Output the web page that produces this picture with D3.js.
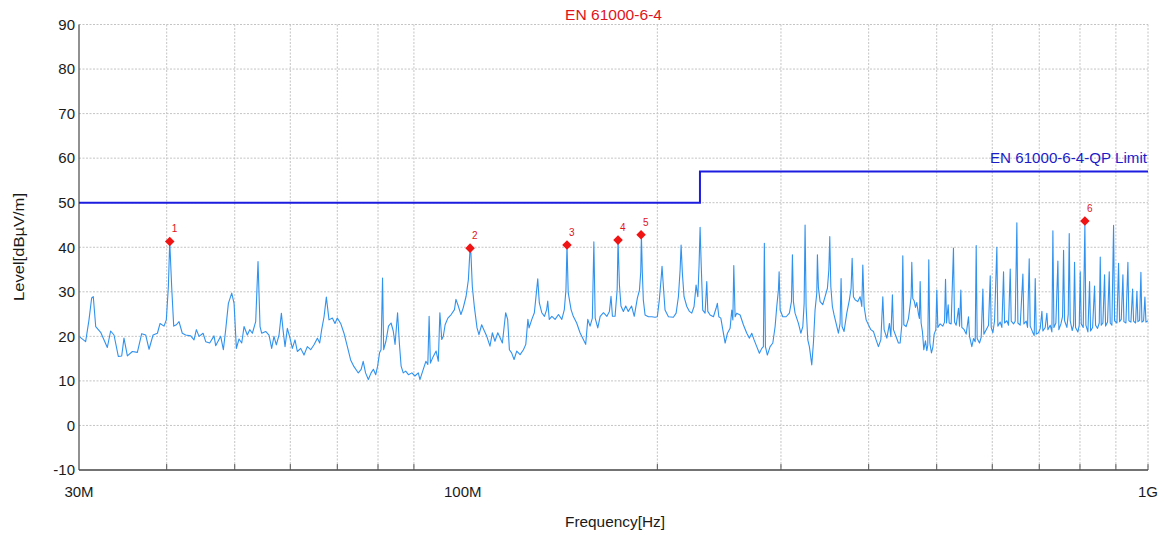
<!DOCTYPE html>
<html><head><meta charset="utf-8">
<script src="https://cdn.jsdelivr.net/npm/d3@7"></script>
<style>html,body{margin:0;padding:0;background:#fff;}svg{display:block;font-family:"Liberation Sans",Arial,sans-serif;}</style>
</head><body><svg id="c" width="1164" height="535"></svg>
<script>
// ---- data ----
const chartTitle = "EN 61000-6-4";
const limitName = "EN 61000-6-4-QP Limit";
const xTickValues = [30, 100, 1000];           // MHz
const xTickLabels = ["30M", "100M", "1G"];
const xGridValues = [40,50,60,70,80,90,200,300,400,500,600,700,800,900,1000];
const yTickValues = [-10,0,10,20,30,40,50,60,70,80,90];
// limit (MHz, dBµV/m)
const limitFreq = [30, 230, 230, 1000];
const limitLevel = [50, 50, 57, 57];
// markers
const markerId = ["1","2","3","4","5","6"];
const markerFreq = [40.4, 108.2, 148.7, 175.8, 189.6, 813.0];
const markerLevel = [41.3, 39.8, 40.5, 41.6, 42.8, 45.9];
// measured trace: frequency (MHz) and level (dBµV/m)
const traceFreq = [
30.00,30.66,31.00,31.27,31.44,31.69,32.21,32.92,33.28,33.65,34.13,34.51,34.77,35.16,35.74,36.33,36.85,37.34,37.75,38.25,
38.80,39.14,39.65,39.95,40.22,40.40,40.66,40.93,41.29,41.65,42.10,42.57,43.27,43.75,44.09,44.48,45.07,45.46,46.06,46.72,
46.97,47.75,48.17,48.54,48.97,49.51,49.89,50.27,50.71,51.16,51.55,52.11,52.52,52.98,53.56,53.97,54.33,54.62,55.34,55.95,
56.44,56.87,57.31,57.82,58.27,58.58,58.97,59.42,59.94,60.40,60.93,61.40,62.08,62.76,63.44,64.15,64.85,65.57,66.07,66.50,
67.02,67.53,68.12,68.87,69.47,70.00,70.78,71.55,72.35,73.13,73.94,74.75,
75.0,75.7,76.2,76.8,77.5,78.2,78.8,79.4,79.9,80.4,80.8,81.2,81.5,82.1,82.8,83.5,84.1,84.6,85.3,85.8,
86.3,86.9,87.6,88.4,89.4,90.3,91.3,91.8,92.8,93.6,94.2,94.6,95.0,95.9,96.8,97.5,98.0,98.6,99.1,99.7,
100.6,101.7,102.8,103.3,104.1,105.0,105.8,106.8,107.6,108.2,108.5,109.0,109.7,110.7,111.4,112.4,113.4,114.3,115.5,116.4,
117.4,118.5,119.4,120.3,121.6,122.4,123.1,124.0,125.0,126.1,127.5,128.9,129.9,130.8,131.3,132.5,133.6,134.2,135.1,135.8,
136.9,138.1,139.1,139.6,140.3,141.5,143.0,144.6,146.2,147.4,148.2,148.7,149.3,150.7,151.8,153.5,155.2,156.9,158.1,159.2,
160.4,161.6,162.4,163.1,164.5,165.8,167.6,169.5,170.9,171.8,172.6,174.1,175.3,175.8,176.6,177.5,178.9,180.3,181.8,183.8,185.4,
187.3,188.6,189.4,189.8,190.4,191.0,192.1,194.2,196.4,198.5,200.0,201.3,202.5,203.1,204.0,205.1,207.4,210.8,212.7,214.3,
215.5,216.2,217.1,218.3,220.3,222.2,223.9,225.6,227.1,228.4,229.3,230.1,230.9,232.1,233.9,235.2,236.0,237.8,240.4,242.5,
243.5,244.7,246.3,247.9,249.8,251.7,253.9,255.3,256.2,257.0,258.1,259.5,262.4,265.2,268.2,270.5,272.6,274.7,277.1,279.5,
281.7,283.2,284.1,285.1,286.9,289.5,292.1,294.3,295.9,297.5,298.2,299.2,301.8,305.1,308.4,310.5,311.5,312.5,314.2,317.7,
320.2,322.3,323.7,324.7,325.8,327.6,329.3,331.9,333.7,335.5,337.4,338.1,339.2,341.1,344.1,346.7,349.4,351.0,352.1,353.3,
355.1,357.1,359.5,362.2,364.2,365.4,366.6,369.0,372.3,375.5,377.6,378.9,380.5,382.6,386.0,388.9,391.1,392.4,394.1,396.7,
399.7,402.9,406.3,409.9,413.0,416.3,419.0,420.8,424.6,428.2,430.2,432.4,433.9,437.7,441.0,
443.5,445.9,447.4,448.9,452.3,455.8,458.3,459.8,460.8,462.3,464.3,466.4,468.4,471.0,472.5,473.6,475.1,477.2,479.3,481.9,
484.1,485.6,487.2,488.9,491.5,493.7,495.9,498.6,500.2,501.9,505.7,510.2,513.0,514.7,516.4,519.2,520.9,524.3,528.3,530.1,
533.0,537.1,538.9,541.2,543.0,547.2,550.8,555.0,556.9,561.1,564.2,567.3,569.2,571.0,575.4,578.6,581.8,583.7,588.2,592.7,
596.0,597.9,601.2,604.5,609.1,611.1,615.8,619.2,622.6,624.7,629.5,632.9,636.4,638.5,643.4,646.9,650.4,652.6,657.6,663.4,
665.6,670.7,673.6,677.3,679.5,684.8,688.5,690.8,693.1,698.4,702.2,706.1,708.4,713.8,717.7,720.1,725.6,729.6,732.0,734.4,
739.2,744.1,746.5,751.5,755.6,758.1,760.6,766.4,769.8,772.3,774.8,779.9,783.4,785.9,788.5,794.6,798.1,800.7,803.3,808.6,
813.0,815.7,821.1,825.6,828.3,833.8,839.2,842.0,847.5,852.2,855.0,857.8,862.5,867.2,870.1,875.8,880.6,883.5,888.3,893.2,
896.2,903.1,908.0,911.0,916.0,921.0,924.0,930.1,936.2,939.3,945.5,950.7,953.8,960.1,964.3,967.5,972.8,977.0,980.2,985.6,
989.9,993.2,1000
];
const traceLevel = [
20.0,18.8,23.7,28.6,28.9,22.2,20.9,17.5,21.2,20.3,15.5,15.6,19.6,15.6,16.6,16.4,20.6,20.3,17.1,20.3,
20.7,22.9,22.3,23.7,31.2,41.3,31.0,22.3,22.6,23.3,20.7,20.3,20.1,19.2,21.5,20.0,20.7,18.8,18.5,20.1,
17.9,20.0,17.0,21.5,27.4,29.7,27.4,17.3,19.4,18.5,22.2,20.3,21.5,20.7,23.3,36.8,22.2,20.7,21.1,20.3,
17.3,20.0,18.1,20.3,25.2,21.5,17.7,21.8,19.6,17.3,19.2,16.6,17.3,15.8,17.7,17.0,18.1,19.6,18.5,21.5,
24.4,28.8,23.7,24.1,22.9,24.1,22.9,20.7,17.7,14.7,13.2,12.1,
11.8,12.6,14.4,11.8,10.3,11.8,12.6,11.4,13.3,16.3,17.0,33.1,17.0,18.9,22.3,23.0,21.2,18.2,25.3,18.5,
13.3,11.8,12.2,11.4,11.8,11.1,11.8,10.3,12.6,14.4,13.7,24.5,14.0,15.5,16.7,14.4,25.3,19.3,20.0,22.6,
24.1,24.9,26.0,28.3,26.8,24.9,26.4,29.0,32.7,39.8,38.7,31.2,26.8,21.9,20.4,22.6,21.2,20.0,17.8,20.8,
18.9,20.8,19.7,18.5,25.3,23.8,17.0,16.3,14.8,16.7,15.9,17.0,18.2,23.8,21.9,23.8,25.3,28.3,32.9,27.5,
25.3,24.5,26.0,27.9,23.8,24.5,23.8,24.9,23.8,26.0,30.5,40.5,29.8,26.0,24.5,23.0,20.8,19.3,18.2,23.8,
22.3,24.1,41.2,24.1,21.9,24.5,25.3,24.5,25.6,29.0,24.5,24.5,30.5,41.6,31.6,26.8,25.6,26.8,25.6,26.8,24.5,
28.6,30.4,34.5,42.8,34.2,28.2,24.8,24.4,24.4,24.3,24.4,28.2,33.0,35.7,31.2,25.9,24.4,24.3,25.2,28.9,
34.9,40.5,34.2,28.9,26.7,25.6,25.2,26.7,31.5,28.9,35.7,44.5,36.4,25.9,25.2,32.3,25.6,24.8,24.4,26.3,
27.4,24.4,24.1,21.5,18.5,20.7,21.8,25.9,23.7,35.9,24.4,25.2,24.8,22.6,20.7,19.6,20.7,19.2,17.7,16.2,
17.3,17.7,40.9,17.7,15.8,17.7,18.5,22.2,26.7,30.4,34.5,25.9,24.4,24.4,25.2,27.8,38.3,27.8,25.2,22.9,
20.7,22.2,27.4,45.0,26.7,19.2,17.7,13.6,18.5,25.9,29.7,38.3,31.0,27.8,27.1,28.9,30.8,34.9,42.4,31.2,
26.7,24.8,22.9,20.7,22.9,33.0,22.2,21.1,25.2,28.2,30.8,37.5,28.9,28.2,27.8,28.9,26.7,36.0,26.7,23.7,
22.6,21.5,21.1,19.2,17.7,19.2,28.9,21.5,19.6,22.9,19.9,29.3,21.5,19.9,18.5,
18.5,22.5,38.1,22.6,22.2,24.0,27.0,29.0,36.6,28.5,28.0,26.5,27.6,25.0,24.0,32.3,23.0,21.0,17.0,19.0,
16.8,18.0,37.2,18.5,16.3,17.5,20.5,21.5,30.4,22.0,22.8,22.3,23.2,32.8,23.0,27.1,23.0,22.8,39.8,23.2,
22.5,26.3,22.3,30.4,22.0,21.5,20.5,24.4,20.0,17.7,19.5,18.8,40.4,19.5,18.5,19.8,30.6,20.5,21.5,22.5,
33.6,22.0,20.8,23.5,40.0,22.3,23.2,22.0,34.5,23.0,23.5,22.5,35.1,23.4,22.8,23.4,45.5,23.0,22.5,34.0,
22.8,23.4,22.0,37.4,22.3,21.0,20.2,33.0,20.5,20.8,21.8,25.6,21.2,22.0,25.2,21.5,22.5,21.0,43.7,22.0,
23.0,36.9,21.5,22.8,24.5,39.3,23.5,22.0,25.0,43.1,23.5,21.3,22.5,36.6,22.0,21.0,22.5,34.5,22.8,22.0,
45.2,22.5,21.0,32.3,21.2,22.0,31.3,22.5,21.8,23.0,37.8,22.5,23.0,33.8,22.3,23.2,34.5,23.0,22.5,44.9,
23.5,23.0,36.4,23.3,23.8,33.8,23.3,23.0,36.6,23.5,23.2,30.6,23.4,23.0,30.1,23.3,23.6,34.4,23.2,23.5,
28.8,23.2,23.5
];

// ---- layout ----
const W = 1164, H = 535;
const m = {left: 79, right: 16, top: 24.5, bottom: 65};
const svg = d3.select("#c");
const x = d3.scaleLog().domain([30, 1000]).range([m.left, W - m.right]);
const y = d3.scaleLinear().domain([-10, 90]).range([H - m.bottom, m.top]);

// grid
const g = svg.append("g");
g.selectAll(".hg").data(yTickValues.filter(v => v > -10)).enter().append("line")
  .attr("x1", m.left).attr("x2", W - m.right).attr("y1", d => y(d)).attr("y2", d => y(d))
  .attr("stroke", "#c4c4c4").attr("stroke-width", 1).attr("stroke-dasharray", "2,1.5");
g.selectAll(".vg").data(xGridValues).enter().append("line")
  .attr("x1", d => x(d)).attr("x2", d => x(d)).attr("y1", m.top).attr("y2", H - m.bottom)
  .attr("stroke", "#c4c4c4").attr("stroke-width", 1).attr("stroke-dasharray", "2,1.5");

// axes lines
svg.append("line").attr("x1", m.left).attr("x2", m.left).attr("y1", m.top).attr("y2", H - m.bottom)
  .attr("stroke", "#555").attr("stroke-width", 1.3);
svg.append("line").attr("x1", m.left).attr("x2", W - m.right).attr("y1", H - m.bottom).attr("y2", H - m.bottom)
  .attr("stroke", "#444").attr("stroke-width", 1.3);
// inner ticks at x grid
svg.selectAll(".xt").data(xGridValues).enter().append("line")
  .attr("x1", d => x(d)).attr("x2", d => x(d)).attr("y1", H - m.bottom - 6).attr("y2", H - m.bottom)
  .attr("stroke", "#555").attr("stroke-width", 1);

// tick labels
svg.selectAll(".yl").data(yTickValues).enter().append("text")
  .attr("x", m.left - 4).attr("y", d => y(d)).attr("dy", "0.35em")
  .attr("text-anchor", "end").attr("font-size", 15).attr("fill", "#1a1a1a").text(d => d);
svg.selectAll(".xl").data(xTickValues).enter().append("text")
  .attr("x", (d, i) => i === 1 ? x(d) - 2 : x(d)).attr("y", 497)
  .attr("text-anchor", (d, i) => i === 1 ? "start" : "middle")
  .attr("font-size", 15).attr("fill", "#1a1a1a").text((d, i) => xTickLabels[i]);

// titles
svg.append("text").attr("x", 565).attr("y", 20)
  .attr("font-size", 15.5).attr("fill", "#e0141c")
  .attr("textLength", 97).attr("lengthAdjust", "spacingAndGlyphs").text(chartTitle);
svg.append("text").attr("x", 565).attr("y", 527)
  .attr("font-size", 15).attr("fill", "#1a1a1a")
  .attr("textLength", 100).attr("lengthAdjust", "spacingAndGlyphs").text("Frequency[Hz]");
svg.append("text").attr("transform", "translate(24,301) rotate(-90)")
  .attr("font-size", 15).attr("fill", "#1a1a1a")
  .attr("textLength", 108).attr("lengthAdjust", "spacingAndGlyphs").text("Level[dBµV/m]");

// limit line
const limitData = limitFreq.map((f, i) => [f, limitLevel[i]]);
svg.append("path").datum(limitData)
  .attr("d", d3.line().x(d => x(d[0])).y(d => y(d[1])))
  .attr("fill", "none").attr("stroke", "#1c1ce0").attr("stroke-width", 2);
svg.append("text").attr("x", 990).attr("y", y(57) - 9)
  .attr("font-size", 15).attr("fill", "#1c1cc8")
  .attr("textLength", 157).attr("lengthAdjust", "spacingAndGlyphs").text(limitName);

// trace
const traceData = traceFreq.map((f, i) => [f, traceLevel[i]]);
svg.append("path").datum(traceData)
  .attr("d", d3.line().x(d => x(d[0])).y(d => y(d[1])))
  .attr("fill", "none").attr("stroke", "#3092ee").attr("stroke-width", 1.1).attr("stroke-linejoin", "round");

// markers
const mk = svg.append("g");
markerFreq.forEach((f, i) => {
  const cx = x(f), cy = y(markerLevel[i]);
  mk.append("path").attr("d", d3.symbol().type(d3.symbolDiamond2).size(58)())
    .attr("transform", `translate(${cx},${cy})`).attr("fill", "#f01414");
  mk.append("text").attr("x", cx + 2).attr("y", cy - 9).attr("font-size", 10)
    .attr("fill", "#e0141c").text(markerId[i]);
});
</script></body></html>
